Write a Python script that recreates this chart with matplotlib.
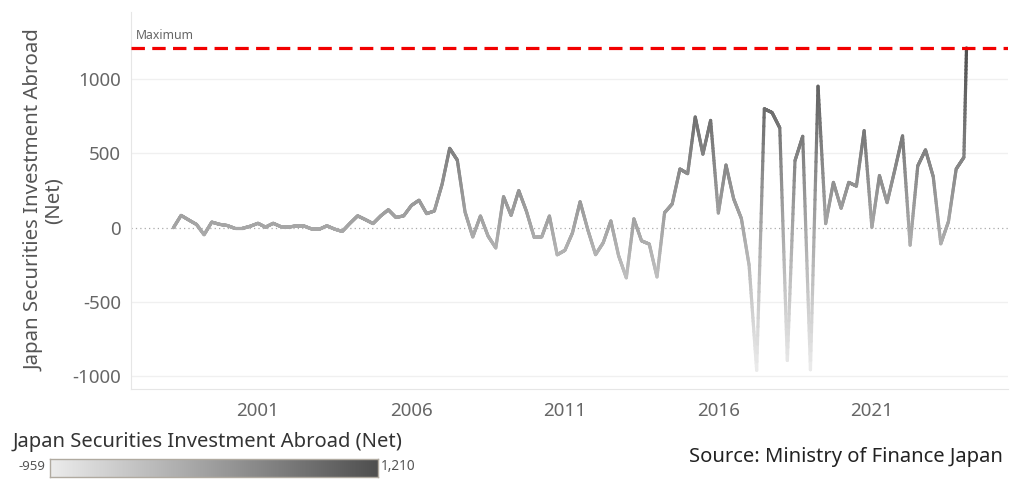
import numpy as np
import pandas as pd
import matplotlib
matplotlib.use("Agg")
import matplotlib.pyplot as plt
import matplotlib.dates as mdates
from matplotlib.collections import LineCollection
from matplotlib.colors import LinearSegmentedColormap, Normalize

plt.rcParams['font.family'] = ['Noto Sans', 'DejaVu Sans']

# ---- data ----
dates = list(pd.date_range('1998-04-01', periods=104, freq='QS')) + [pd.Timestamp('2024-02-01')]
values = [0, 83, 52, 22, -47, 38, 23, 15, -4, -4,
          10, 30, 4, 30, 7, 4, 13, 12, -8, -10,
          13, -9, -25, 30, 80, 55, 28, 80, 121, 69,
          80, 150, 185, 95, 113, 293, 534, 455, 106, -62,
          79, -56, -136, 209, 83, 250, 110, -65, -61, 79,
          -182, -152, -35, 175, -14, -181, -101, 46, -188, -337,
          60, -88, -110, -331, 101, 160, 395, 364, 745, 495,
          722, 99, 422, 195, 62, -252, -959, 800, 775, 672,
          -893, 451, 615, -955, 952, 28, 305, 131, 305, 280,
          653, 3, 351, 169, 390, 618, -117, 416, 524, 344,
          -108, 41, 395, 474, 1210]
year_ticks = [2001, 2006, 2011, 2016, 2021]
y_ticks = [-1000, -500, 0, 500, 1000]
max_value = max(values)
min_value = min(values)
series_name = 'Japan Securities Investment Abroad (Net)'
source_text = 'Source: Ministry of Finance Japan'

# ---- figure ----
fig = plt.figure(figsize=(10.22, 4.97), dpi=100)
ax = fig.add_axes([0.128, 0.217, 0.858, 0.759])

cmap = LinearSegmentedColormap.from_list('greys', ['#ececec', '#4f4f4f'])
norm = Normalize(vmin=min_value, vmax=max_value)

xn = mdates.date2num(dates)
yv = np.array(values, dtype=float)
segs = []
cols = []
N = 30
for i in range(len(xn) - 1):
    t = np.linspace(0, 1, N + 1)
    xs = xn[i] + (xn[i + 1] - xn[i]) * t
    ys = yv[i] + (yv[i + 1] - yv[i]) * t
    for k in range(N):
        segs.append([(xs[k], ys[k]), (xs[k + 1], ys[k + 1])])
        cols.append(cmap(norm((ys[k] + ys[k + 1]) / 2)))
lc = LineCollection(segs, colors=cols, linewidths=2.3, capstyle='round', joinstyle='round', zorder=3)
ax.add_collection(lc)

# reference line
ax.axhline(max_value, color='#f20000', lw=2.3, linestyle=(0, (4.2, 2.3)), zorder=4)
ax.text(0.006, max_value + 40, 'Maximum', transform=ax.get_yaxis_transform(),
        fontsize=8.8, color='#666666', va='bottom', ha='left')

# grid & zero line
for yt in y_ticks:
    if yt == 0:
        ax.axhline(0, color='#aaaaaa', lw=0.9, linestyle=(0, (1, 2.5)), zorder=1)
    else:
        ax.axhline(yt, color='#f0f0f0', lw=1.0, zorder=1)

ax.set_ylim(-1086, 1452)
ax.set_xlim(mdates.date2num(pd.Timestamp('1996-11-10')), mdates.date2num(pd.Timestamp('2025-06-05')))
ax.set_yticks(y_ticks)
ax.set_yticklabels([str(v) for v in y_ticks])
ax.set_xticks([mdates.date2num(pd.Timestamp(f'{y}-01-01')) for y in year_ticks])
ax.set_xticklabels([str(y) for y in year_ticks])
ax.tick_params(axis='both', length=0, colors='#666666', labelsize=13.5)
ax.tick_params(axis='x', pad=9)
ax.tick_params(axis='y', pad=7)

for s in ['top', 'right']:
    ax.spines[s].set_visible(False)
ax.spines['left'].set_color('#e6e6e6')
ax.spines['bottom'].set_color('#e6e6e6')

ax.set_ylabel('Japan Securities Investment Abroad\n(Net)', fontsize=14.7, color='#555555',
              linespacing=0.95, labelpad=6)

# legend (colour bar)
fig.text(13 / 1022, 1 - 442 / 497, series_name, fontsize=14.5, color='#333333', va='center', ha='left')
cax = fig.add_axes([50 / 1022, 1 - 477 / 497, 328 / 1022, 18 / 497])
grad = np.linspace(0, 1, 256).reshape(1, -1)
cax.imshow(grad, aspect='auto', cmap=cmap, extent=[0, 1, 0, 1])
cax.set_xticks([])
cax.set_yticks([])
for s in cax.spines.values():
    s.set_color('#b0aaa0')
    s.set_linewidth(1.0)
fig.text(45 / 1022, 1 - 467 / 497, f'{min_value:,}', fontsize=9.5, color='#555555', va='center', ha='right')
fig.text(381 / 1022, 1 - 467 / 497, f'{max_value:,}', fontsize=9.8, color='#555555', va='center', ha='left')

fig.text(1003 / 1022, 1 - 457 / 497, source_text, fontsize=14.5, color='#222222', va='center', ha='right')

fig.savefig('out.png', dpi=100)
